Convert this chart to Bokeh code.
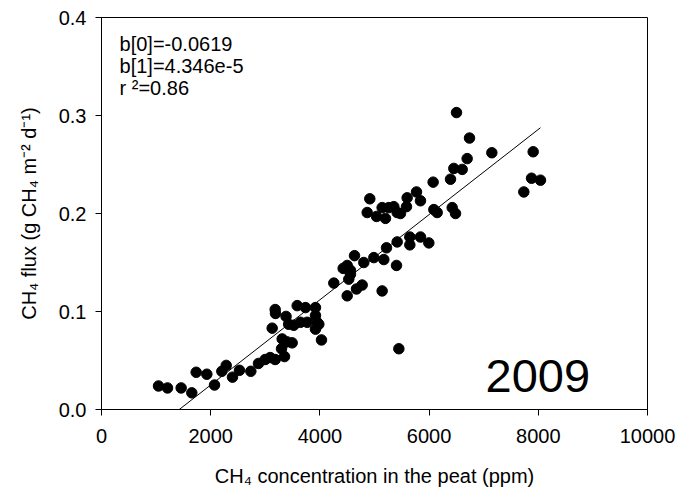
from bokeh.plotting import figure
from bokeh.models import Range1d, FixedTicker, Label, ColumnDataSource
from bokeh.embed import file_html
from bokeh.resources import INLINE

# ---- data ----
conc_ppm = [1044, 1209, 1459, 1654, 1734, 1929, 2070, 2204, 2284, 2399,
            2527, 2735, 2875, 2997, 3089, 3181, 3352, 3297, 3309, 3400,
            3492, 3126, 3181, 3187, 3380, 3428, 3522, 3584, 3736, 3645,
            3767, 3919, 3919, 3950, 3919, 3980, 4029, 4255, 4500, 4426,
            4500, 4560, 4560, 4529, 4634, 4670, 4774, 4804, 4988, 5171,
            5220, 5403, 5415, 5140, 5446, 5647, 5647, 5842, 5995, 4866,
            4914, 5037, 5140, 5201, 5262, 5354, 5415, 5586, 5598, 5769,
            5842, 6074, 6087, 6148, 6502, 6740, 7149, 6697, 6453, 6606,
            6392, 6423, 6484, 7906, 7876, 8040, 7735, 5476]
flux = [0.024, 0.022, 0.022, 0.017, 0.038, 0.036, 0.025, 0.039, 0.045, 0.033,
        0.040, 0.039, 0.047, 0.051, 0.053, 0.051, 0.054, 0.062, 0.072, 0.069,
        0.068, 0.083, 0.102, 0.098, 0.095, 0.087, 0.086, 0.106, 0.104, 0.089,
        0.089, 0.104, 0.096, 0.089, 0.082, 0.087, 0.071, 0.129, 0.116, 0.144,
        0.147, 0.142, 0.138, 0.133, 0.157, 0.123, 0.127, 0.150, 0.155, 0.153,
        0.165, 0.147, 0.171, 0.121, 0.062, 0.176, 0.168, 0.176, 0.170, 0.201,
        0.215, 0.197, 0.206, 0.195, 0.206, 0.207, 0.201, 0.207, 0.216, 0.222,
        0.213, 0.232, 0.204, 0.201, 0.303, 0.277, 0.262, 0.256, 0.246, 0.245,
        0.235, 0.206, 0.200, 0.263, 0.236, 0.234, 0.222, 0.200]

b0 = -0.0619
b1 = 4.346e-5
r2 = 0.86
year_label = "2009"

x_ticks = [0, 2000, 4000, 6000, 8000, 10000]
y_ticks = [0.0, 0.1, 0.2, 0.3, 0.4]
y_tick_labels = ["0.0", "0.1", "0.2", "0.3", "0.4"]

FONT = "Liberation Sans"

p = figure(width=680, height=489, output_backend="svg", toolbar_location=None,
           x_range=Range1d(0, 10000), y_range=Range1d(0, 0.4),
           min_border_left=101, min_border_right=33, min_border_top=17,
           min_border_bottom=78)
p.background_fill_color = "white"
p.border_fill_color = "white"
p.outline_line_color = "black"
p.outline_line_width = 1
p.grid.visible = False

# regression line
x_line = [min(conc_ppm), max(conc_ppm)]
y_line = [b0 + b1 * xv for xv in x_line]
p.line(x_line, y_line, line_color="black", line_width=1)

src = ColumnDataSource(dict(x=conc_ppm, y=flux))
p.scatter("x", "y", source=src, size=10.5, fill_color="black", line_color="black")

for ax in (p.xaxis[0], p.yaxis[0]):
    ax.axis_line_color = "black"
    ax.major_tick_line_color = "black"
    ax.major_tick_out = 6
    ax.major_tick_in = 0
    ax.minor_tick_line_color = None
    ax.major_label_text_font = FONT
    ax.major_label_text_font_size = "20px"
    ax.major_label_text_color = "black"
    ax.axis_label_text_font = FONT
    ax.axis_label_text_font_size = "20px"
    ax.axis_label_text_font_style = "normal"
    ax.axis_label_text_color = "black"

p.xaxis.ticker = FixedTicker(ticks=x_ticks)
p.yaxis.ticker = FixedTicker(ticks=y_ticks)
p.yaxis.major_label_overrides = {t: s for t, s in zip(y_ticks, y_tick_labels)}
p.xaxis.major_label_standoff = 13
p.yaxis.major_label_standoff = 9
p.xaxis.axis_label = "CH\u2084 concentration in the peat (ppm)"
p.yaxis.axis_label = "CH\u2084 flux (g CH\u2084 m\u207b\u00b2 d\u207b\u00b9)"
p.xaxis.axis_label_standoff = 19
p.yaxis.axis_label_standoff = 16

# regression annotation
ann = [f"b[0]={b0}", f"b[1]={b1:.3e}".replace("e-05", "e-5"), f"r \u00b2={r2}"]
ann_y = [0.3725, 0.3505, 0.3285]
for t, yy in zip(ann, ann_y):
    p.add_layout(Label(x=330, y=yy, text=t, text_font=FONT, text_font_size="20px",
                       text_color="black", text_baseline="alphabetic"))

p.add_layout(Label(x=7033, y=0.034, text=year_label, text_font=FONT,
                   text_font_size="47px", text_color="black",
                   text_baseline="alphabetic"))

open("out.html", "w").write(file_html(p, INLINE))
